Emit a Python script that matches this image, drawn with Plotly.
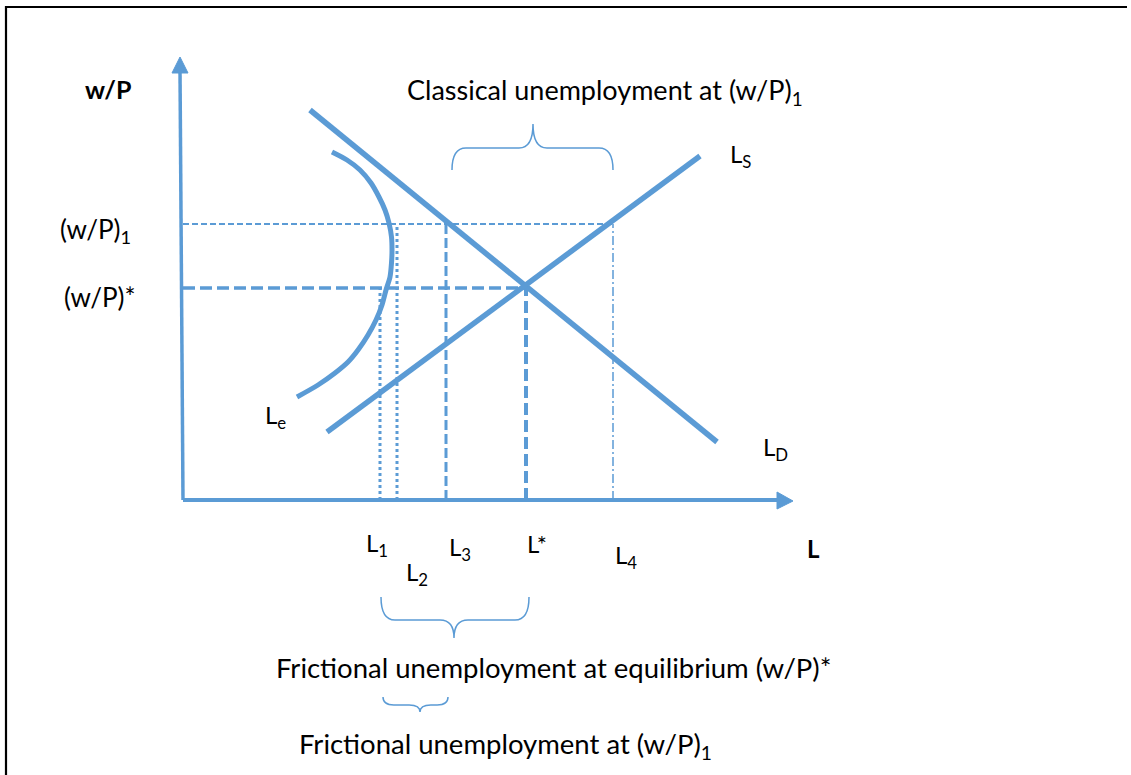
import plotly.graph_objects as go

# ---- diagram data (schematic units: L along x, w/P along y) ----
W1 = 276        # (w/P)1 level
WSTAR = 212     # (w/P)* equilibrium level
L1 = 197
L2 = 214
L3 = 263
LSTAR = 343
L4 = 430

LD_x = [127, 534]
LD_y = [390, 58]
LS_x = [144, 517]
LS_y = [68, 344]

LE_x = [149, 164, 177, 188, 196, 202, 206, 208.5, 209, 208.5, 207, 203, 199, 193, 185, 175, 165, 152, 135, 114]
LE_y = [348, 340, 330, 317, 303, 290, 277, 263, 250, 237, 223, 210, 195, 180, 165, 150, 138, 127, 115, 103]

YAXIS_x = [0, -3]
YAXIS_y = [0, 430]
XAXIS_x = [0, 597]
XAXIS_y = [0, 0]
YARROW_x = [-11, -3, 5, -11]
YARROW_y = [427, 443, 427, 427]
XARROW_x = [594, 610, 594, 594]
XARROW_y = [8, -1, -9, 8]

# outer frame (top and left edges only)
FRAME_x = [-177, -177, 944]
FRAME_y = [-275, 493, 493]

# braces: (left, right, middle, end level, bar level, tip level)
BRACE_CLASSICAL = (269, 430, 350, 330, 352, 376)
BRACE_FRIC_EQ = (198, 346, 271, -97, -120, -138)
BRACE_FRIC_1 = (200, 265, 237, -197, -205, -212)

BLUE = "#5B9BD5"
FONT = "Lato"

fig = go.Figure()


def line(x, y, width, dash="solid", shape="linear", color=BLUE):
    fig.add_trace(go.Scatter(x=x, y=y, mode="lines",
                             line=dict(color=color, width=width, dash=dash, shape=shape,
                                       smoothing=0.8 if shape == "spline" else None),
                             hoverinfo="skip", showlegend=False))


# frame
line(FRAME_x, FRAME_y, 2.2, color="black")

# guide lines
line([0, L4], [W1, W1], 1.8, "6px,3px")
line([0, LSTAR], [WSTAR, WSTAR], 3.5, "12px,5px")
line([L1, L1], [0, WSTAR], 3, "3px,3px")
line([L2, L2], [0, W1], 3, "3px,3px")
line([L3, L3], [0, W1], 3, "10px,4px")
line([LSTAR, LSTAR], [0, WSTAR], 4, "12px,5px")
line([L4, L4], [0, W1], 1.5, "9px,3px,2px,3px")

# curves
line(LD_x, LD_y, 5.5)
line(LS_x, LS_y, 5.5)
line(LE_x, LE_y, 5, shape="spline")

# axes
line(YAXIS_x, YAXIS_y, 3.5)
line(XAXIS_x, XAXIS_y, 4)
for ax, ay in ((YARROW_x, YARROW_y), (XARROW_x, XARROW_y)):
    fig.add_trace(go.Scatter(x=ax, y=ay, mode="lines", fill="toself",
                             fillcolor=BLUE, line=dict(color=BLUE, width=1),
                             hoverinfo="skip", showlegend=False))


def brace(b):
    x0, x1, xm, ye, yl, yt = b
    r = min(14, (x1 - x0) / 6)
    return (f"M {x0},{ye} Q {x0},{yl} {x0 + r},{yl} L {xm - r},{yl} "
            f"Q {xm},{yl} {xm},{yt} Q {xm},{yl} {xm + r},{yl} "
            f"L {x1 - r},{yl} Q {x1},{yl} {x1},{ye}")


shapes = []
for b in (BRACE_CLASSICAL, BRACE_FRIC_EQ, BRACE_FRIC_1):
    shapes.append(dict(type="path", path=brace(b), xref="x", yref="y",
                       line=dict(color=BLUE, width=1.5)))


def text(x, y, s, size=24, bold=False, anchor="left"):
    return dict(x=x, y=y, xref="x", yref="y", text=f"<b>{s}</b>" if bold else s,
                showarrow=False, xanchor=anchor, yanchor="middle",
                font=dict(family=FONT, size=size, color="black"))


annotations = [
    text(-100, 411, "w/P", size=25, bold=True),
    text(-125, 270, "(w/P)<sub>1</sub>", size=26),
    text(-121, 203, "(w/P)*", size=26),
    text(222, 409, "Classical unemployment at (w/P)<sub>1</sub>", size=27),
    text(545, 345, "L<sub>S</sub>"),
    text(578, 52, "L<sub>D</sub>"),
    text(80, 84, "L<sub>e</sub>"),
    text(181, -44, "L<sub>1</sub>"),
    text(264, -48, "L<sub>3</sub>"),
    text(342, -43, "L*"),
    text(430, -56, "L<sub>4</sub>"),
    text(221, -73, "L<sub>2</sub>"),
    text(622, -48, "L", bold=True),
    text(91, -167, "Frictional unemployment at equilibrium (w/P)*", size=27.5),
    text(114, -245, "Frictional unemployment at (w/P)<sub>1</sub>", size=27.5),
]

fig.update_layout(
    width=1131, height=775,
    margin=dict(l=0, r=0, t=0, b=0),
    paper_bgcolor="white", plot_bgcolor="white",
    xaxis=dict(range=[-183, 948], visible=False, fixedrange=True),
    yaxis=dict(range=[-275, 500], visible=False, fixedrange=True),
    shapes=shapes, annotations=annotations, showlegend=False,
)

fig.write_html("out.html",
               config={"displayModeBar": False, "staticPlot": True},
               post_script="document.documentElement.style.overflow='hidden';"
                           "document.body.style.margin='0px';document.body.style.overflow='hidden';")
